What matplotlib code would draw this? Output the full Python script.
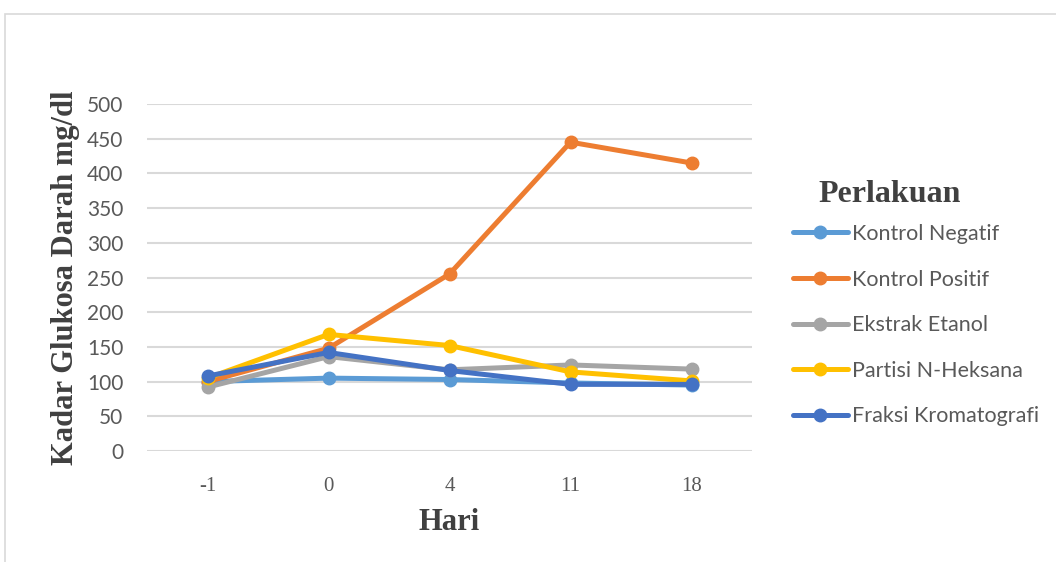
import matplotlib
matplotlib.use("Agg")
import matplotlib.pyplot as plt
from matplotlib.patches import Rectangle

# Days of observation and blood glucose (mg/dl) per treatment group
hari = ["-1", "0", "4", "11", "18"]
kontrol_negatif = [100, 105, 103, 98, 95]
kontrol_positif = [100, 148, 255, 445, 415]
ekstrak_etanol = [92, 136, 117, 124, 118]
partisi_n_heksana = [105, 168, 152, 114, 101]
fraksi_kromatografi = [108, 142, 116, 96, 96]

series = [
    ("Kontrol Negatif", kontrol_negatif, "#5B9BD5"),
    ("Kontrol Positif", kontrol_positif, "#ED7D31"),
    ("Ekstrak Etanol", ekstrak_etanol, "#A5A5A5"),
    ("Partisi N-Heksana", partisi_n_heksana, "#FFC000"),
    ("Fraksi Kromatografi", fraksi_kromatografi, "#4472C4"),
]

W, H = 1056, 562
fig = plt.figure(figsize=(W / 100, H / 100), dpi=100)
fig.patch.set_facecolor("white")

# outer chart frame
fig.patches.append(Rectangle((5 / W, -0.05), 1.2, 1 - 14 / H + 0.05,
                             transform=fig.transFigure, fill=False,
                             edgecolor="#d9d9d9", linewidth=1.2))

ax = fig.add_axes([147 / W, 1 - 451 / H, 605 / W, 347 / H])
x = list(range(len(hari)))
for name, vals, col in series:
    ax.plot(x, vals, color=col, lw=3.6, marker="o", ms=9, label=name,
            solid_capstyle="round", zorder=3)

ax.set_xlim(-0.5, len(hari) - 0.5)
ax.set_ylim(0, 500)
ax.set_yticks(range(0, 501, 50))
ax.set_xticks(x)
ax.set_xticklabels(hari, fontfamily="Liberation Serif", fontsize=15, color="#595959")
for lab in ax.get_yticklabels():
    lab.set_fontfamily("Lato")
    lab.set_fontsize(15)
    lab.set_color("#595959")
ax.tick_params(axis="y", length=0, pad=17)
ax.tick_params(axis="x", length=0, pad=19)
ax.grid(axis="y", color="#d9d9d9", lw=1.5, zorder=0)
for s in ax.spines.values():
    s.set_visible(False)

ax.set_ylabel("Kadar Glukosa Darah mg/dl", fontfamily="Liberation Serif",
              fontweight="bold", fontsize=22, color="#404040", labelpad=5)
ax.set_xlabel("Hari", fontfamily="Liberation Serif", fontweight="bold",
              fontsize=22, color="#404040", labelpad=8)

leg = ax.legend(loc="upper left", bbox_to_anchor=(793 / W, 1 - 224 / H),
                bbox_transform=fig.transFigure, frameon=False,
                handlelength=2.55, handletextpad=0.2,
                labelspacing=1.19, borderaxespad=0, borderpad=0,
                prop={"family": "Lato", "size": 15.5})
for t in leg.get_texts():
    t.set_color("#595959")

fig.text(890 / W, 1 - 195 / H, "Perlakuan", ha="center", va="center",
         fontfamily="Liberation Serif", fontweight="bold", fontsize=23,
         color="#404040")

fig.savefig("out.png", dpi=100)
